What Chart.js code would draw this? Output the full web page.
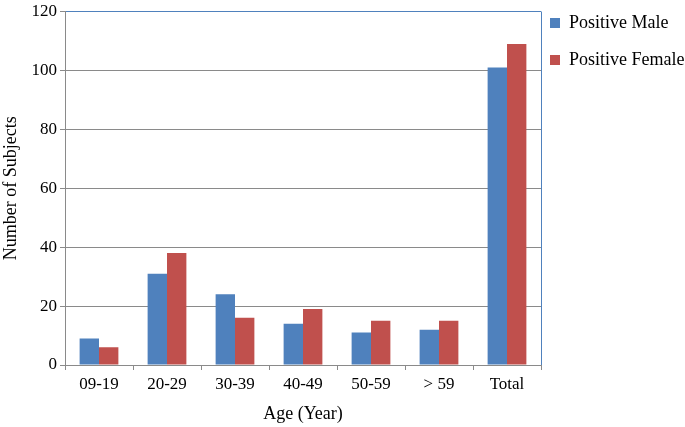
<!DOCTYPE html>
<html>
<head>
  <meta charset="UTF-8">
  <title>Positive Subjects by Age</title>
  <script src="https://cdn.jsdelivr.net/npm/chart.js"></script>
  <style>
    html, body { margin: 0; padding: 0; background: #fff; }
    #wrap { width: 685px; height: 427px; }
  </style>
</head>
<body>
  <div id="wrap"><canvas id="chart" width="685" height="427"></canvas></div>

  <script>
    const ageGroups = ['09-19', '20-29', '30-39', '40-49', '50-59', '> 59', 'Total'];
    const positiveMale = [9, 31, 24, 14, 11, 12, 101];
    const positiveFemale = [6, 38, 16, 19, 15, 15, 109];
    const yTicks = [0, 20, 40, 60, 80, 100, 120];

    const GRID = '#8a8a8a';
    const FRAME = '#4f81bd';
    const serif = 'Liberation Serif, Times New Roman, serif';

    // legend sits right of the plot; nudge it into place after layout
    const legendPlace = {
      id: 'legendPlace',
      beforeInit(chart) {
        const fit = chart.legend.fit;
        chart.legend.fit = function () {
          fit.call(this);
          this.width = 144;
        };
      },
      afterLayout(chart) {
        const lg = chart.legend;
        lg.left -= 10;               // keep right edge so text is not clipped
        lg.top -= 14; lg.bottom -= 14;
        lg.width = lg.right - lg.left;
      }
    };

    new Chart(document.getElementById('chart'), {
      type: 'bar',
      data: {
        labels: ageGroups,
        datasets: [
          { label: 'Positive Male', data: positiveMale, backgroundColor: '#4f81bd', borderWidth: 0 },
          { label: 'Positive Female', data: positiveFemale, backgroundColor: '#c0504d', borderWidth: 0 }
        ]
      },
      options: {
        responsive: false,
        animation: false,
        layout: { padding: { top: 9, left: 0, right: 0, bottom: 0 } },
        datasets: { bar: { categoryPercentage: 0.57, barPercentage: 1.0 } },
        plugins: {
          tooltip: { enabled: false },
          legend: {
            position: 'right',
            align: 'start',
            labels: {
              boxWidth: 10,
              boxHeight: 10,
              padding: 19,
              color: '#000',
              font: { family: serif, size: 18 }
            }
          }
        },
        scales: {
          x: {
            grid: {
              offset: true,
              drawOnChartArea: true,
              // only the closing line on the right of the plot is drawn (blue frame)
              color: ctx => ctx.type === 'scale' ? FRAME : 'rgba(0,0,0,0)',
              tickColor: GRID,
              tickLength: 5
            },
            border: { display: true, color: GRID },
            ticks: { color: '#000', padding: 6, font: { family: serif, size: 17, lineHeight: 1 } },
            title: {
              display: true,
              text: 'Age (Year)',
              color: '#000',
              font: { family: serif, size: 18 },
              padding: { top: 0, bottom: 2 }
            },
            afterFit(scale) { scale.height = 62; }
          },
          y: {
            min: 0,
            max: 120,
            afterBuildTicks(scale) { scale.ticks = yTicks.map(v => ({ value: v })); },
            grid: {
              color: ctx => ctx.tick && ctx.tick.value === 120 ? FRAME : GRID,
              tickColor: GRID,
              tickLength: 5
            },
            border: { display: true, color: GRID },
            ticks: { color: '#000', padding: 3, font: { family: serif, size: 17, lineHeight: 1 } },
            title: {
              display: true,
              text: 'Number of Subjects',
              color: '#000',
              font: { family: serif, size: 18 },
              padding: { top: 0, bottom: 0 }
            },
            afterFit(scale) { scale.width = 65; }
          }
        }
      },
      plugins: [legendPlace]
    });
  </script>
</body>
</html>
